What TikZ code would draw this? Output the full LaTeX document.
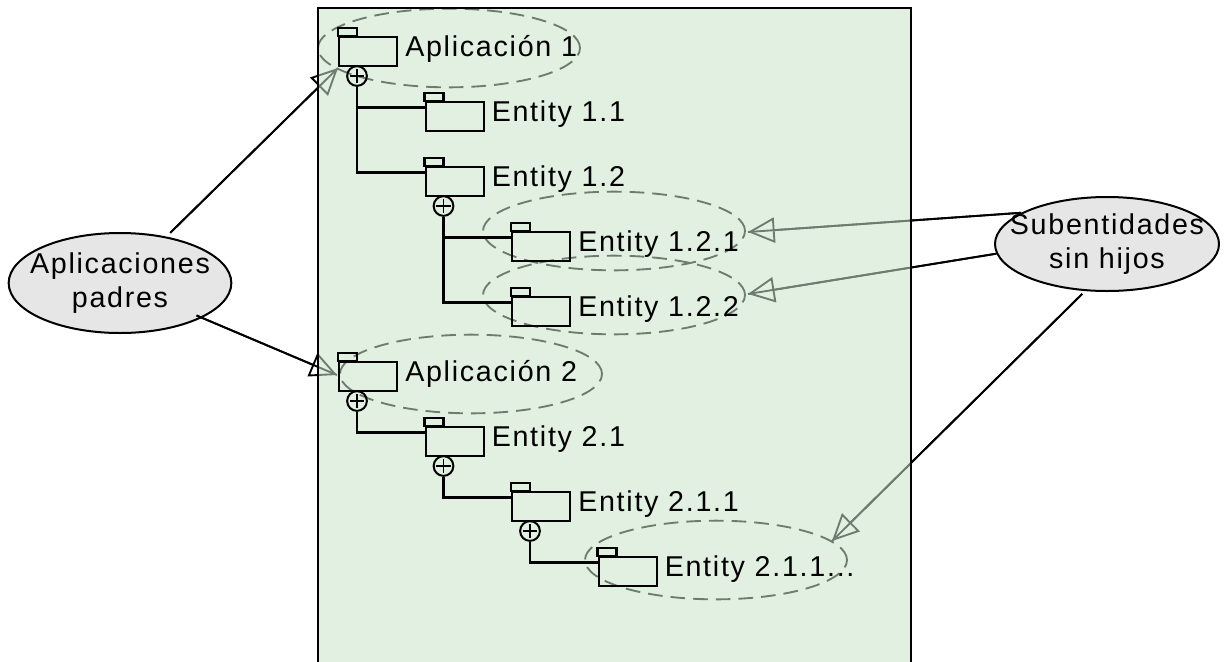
\documentclass[tikz,border=0pt]{standalone}
\usepackage{fontspec}
\setmainfont{Liberation Sans}
\newfontfamily\labfont[LetterSpace=6]{Liberation Sans}
\usetikzlibrary{arrows.meta,shapes.geometric,calc}
\definecolor{panelgreen}{RGB}{202,227,202}
\definecolor{calloutgray}{RGB}{230,230,230}

\tikzset{
  pkgline/.style={draw=black, line width=1.6pt},
  pkgbody/.style={pkgline, rectangle, inner sep=0pt, minimum width=43.5pt,
    minimum height=21.75pt, anchor=north west},
  lab/.style={font=\labfont\fontsize{21.5pt}{26pt}\selectfont, inner sep=0pt,
    anchor=base west},
  plusnode/.style={circle, draw, line width=1.5pt, minimum size=14.8pt, inner sep=0pt,
    path picture={\draw[line width=1.3pt]
      ([xshift=-5.4pt]path picture bounding box.center) -- ([xshift=5.4pt]path picture bounding box.center)
      ([yshift=-5.4pt]path picture bounding box.center) -- ([yshift=5.4pt]path picture bounding box.center);}},
  treeline/.style={line width=1.6pt},
  hilite/.style={ellipse, draw=black, dash pattern=on 11pt off 6pt, line width=1.4pt,
    minimum width=196.5pt, minimum height=59pt, inner sep=0pt},
  callout/.style={ellipse, draw=black, fill=calloutgray, line width=1.5pt, align=center,
    font=\labfont\fontsize{21.5pt}{26pt}\selectfont, inner sep=-40pt},
  pointer/.style={line width=1.4pt,
    postaction={draw, -{Triangle[open, length=20pt, width=19pt]}}},
}

% package icon: name, left x, top y of the body, caption
\newcommand\pkgicon[4]{%
  \draw[pkgline] (#2,#3) rectangle ++(19,-8);
  \node[pkgbody] (#1) at (#2,#3) {};
  \node[lab] (#1-t) at ($(#2,#3)+(67,20)$) {#4};
  \coordinate (#1-in) at ($(#2,#3)+(0,6.5)$);
}

\begin{document}
\begin{tikzpicture}[x=0.75pt,y=-0.75pt]
\useasboundingbox (0,0) rectangle (1227,661);

% callouts
\node[callout, minimum width=167pt, minimum height=75pt] (padres) at (120,283) {Aplicaciones\\padres};
\node[callout, minimum width=168pt, minimum height=70.5pt] (subent) at (1107,244) {Subentidades\\sin hijos};

% pointer targets
\coordinate (tipA1) at (338,68);
\coordinate (tipA2) at (337,375);
\coordinate (tip121) at (748,232);
\coordinate (tip122) at (748,294);
\coordinate (tip211) at (832,541);

\draw[pointer, shorten <=4pt] (padres.45) -- (tipA1);
\draw[pointer, shorten <=-4.5pt] (padres.-23) -- (tipA2);
\draw[pointer] (subent.160) -- (tip121);
\draw[pointer] (subent.185) -- (tip122);
\draw[pointer, shorten <=3pt] (subent.245) -- (tip211);

% highlighted entries
\node[hilite] (hl-app1) at (449,48) {};
\node[hilite] (hl-e121) at (614,231) {};
\node[hilite] (hl-e122) at (614,295) {};
\node[hilite] (hl-app2) at (471,374) {};
\node[hilite] (hl-e211x) at (716,560) {};

% translucent panel
\fill[panelgreen, fill opacity=0.55] (318,8) rectangle (911,675);
\draw[line width=1.5pt] (318,675) -- (318,8) -- (911,8) -- (911,675);

% tree of packages
\pkgicon{app1}{338}{36}{Aplicación 1}
\pkgicon{e11}{424.5}{101}{Entity 1.1}
\pkgicon{e12}{424.5}{166}{Entity 1.2}
\pkgicon{e121}{511}{231}{Entity 1.2.1}
\pkgicon{e122}{511}{296}{Entity 1.2.2}
\pkgicon{app2}{338}{361}{Aplicación 2}
\pkgicon{e21}{424.5}{426}{Entity 2.1}
\pkgicon{e211}{511}{491}{Entity 2.1.1}
\pkgicon{e211x}{597.5}{556}{Entity 2.1.1...}

\node[plusnode] (app1-c) at (357,76) {};
\node[plusnode] (e12-c) at (443.5,206) {};
\node[plusnode] (app2-c) at (357,401) {};
\node[plusnode] (e21-c) at (443.5,466) {};
\node[plusnode] (e211-c) at (530,531) {};

\draw[treeline] (app1-c.south) |- (e11-in);
\draw[treeline] (app1-c.south) |- (e12-in);
\draw[treeline] (e12-c.south) |- (e121-in);
\draw[treeline] (e12-c.south) |- (e122-in);
\draw[treeline] (app2-c.south) |- (e21-in);
\draw[treeline] (e21-c.south) |- (e211-in);
\draw[treeline] (e211-c.south) |- (e211x-in);
\end{tikzpicture}
\end{document}
